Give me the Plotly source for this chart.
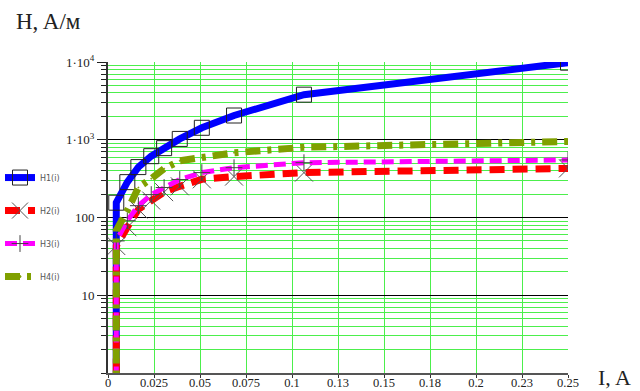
import plotly.graph_objects as go

# ---- data ----
current_a = [0.0045, 0.0045, 0.0105, 0.0165, 0.0235, 0.0305, 0.039, 0.051, 0.0685, 0.1065, 0.25]
h1 = [0.5, 155, 285, 445, 615, 780, 1025, 1425, 2050, 3800, 9800]
h2 = [0.5, 43, 75, 127, 165, 212, 252, 310, 336, 378, 428]
h3 = [0.5, 50, 91, 142, 197, 243, 308, 378, 437, 507, 550]
h4 = [0.5, 68, 123, 243, 316, 425, 537, 588, 680, 800, 950]
series_names = ["H1(i)", "H2(i)", "H3(i)", "H4(i)"]

x_tick_vals = [0, 0.025, 0.05, 0.075, 0.1, 0.125, 0.15, 0.175, 0.2, 0.225, 0.25]
x_tick_text = ["0", "0.025", "0.05", "0.075", "0.1", "0.13", "0.15", "0.18", "0.2", "0.23", "0.25"]
y_tick_vals = [10, 100, 1000, 10000]
y_tick_text = ["10", "100", "1·10<sup>3</sup>", "1·10<sup>4</sup>"]

SERIF = "Liberation Serif, Times New Roman, serif"
GREEN = "#4cef4c"

styles = [
    dict(color="#0000ff", width=7, dash="solid", sym="square-open", msize=15, mcolor="#222222"),
    dict(color="#ff0000", width=7, dash="15px,8px", sym="x-thin-open", msize=18, mcolor="#555555"),
    dict(color="#ff00ff", width=5, dash="12px,6px", sym="cross-thin-open", msize=12, mcolor="#444444"),
    dict(color="#80a000", width=7, dash="15px,7px,4px,7px", sym="circle", msize=1, mcolor="#80a000"),
]

fig = go.Figure()
for name, ys, st in zip(series_names, [h1, h2, h3, h4], styles):
    fig.add_trace(go.Scatter(
        x=current_a, y=ys, name=name, mode="lines+markers",
        line=dict(color=st["color"], width=st["width"], dash=st["dash"]),
        marker=dict(symbol=st["sym"], size=st["msize"], color=st["mcolor"],
                    line=dict(color=st["mcolor"], width=1)),
        legendgroup=name,
    ))

fig.update_layout(
    width=640, height=391,
    margin=dict(l=108, r=72, t=62, b=18, autoexpand=False),
    paper_bgcolor="white", plot_bgcolor="white",
    font=dict(family=SERIF, size=13, color="#222222"),
    showlegend=True,
    legend=dict(xref="container", yref="container", x=0.0, y=0.583,
                xanchor="left", yanchor="top",
                font=dict(family="DejaVu Sans, sans-serif", size=8, color="#555555"),
                bgcolor="rgba(0,0,0,0)", itemsizing="trace", tracegroupgap=14),
    xaxis=dict(
        range=[0, 0.25], tickmode="array", tickvals=x_tick_vals, ticktext=x_tick_text,
        showgrid=True, gridcolor=GREEN, gridwidth=1, zeroline=False, automargin=False,
        showline=True, linecolor="#555555", linewidth=2,
        ticks="outside", ticklen=3, tickcolor="#333333", ticklabelstandoff=-6,
        tickfont=dict(family=SERIF, size=12.5, color="#222222"),
    ),
    yaxis=dict(
        type="log", range=[0, 4], tickmode="array", tickvals=y_tick_vals, ticktext=y_tick_text,
        showgrid=True, gridcolor="#000000", gridwidth=1, zeroline=False, automargin=False,
        showline=True, linecolor="#333333", linewidth=2,
        ticks="outside", ticklen=9, tickcolor="#222222",
        tickfont=dict(family=SERIF, size=13, color="#222222"),
        minor=dict(dtick="D1", showgrid=True, gridcolor=GREEN, gridwidth=1,
                   ticks="outside", ticklen=5, tickcolor="#222222"),
    ),
)

# axis titles
fig.add_annotation(text="H, A/м", xref="paper", yref="paper", x=-0.205, y=1.13,
                   xanchor="left", yanchor="middle", showarrow=False,
                   font=dict(family=SERIF, size=23, color="#222222"))
fig.add_annotation(text="I, A", xref="paper", yref="paper", x=1.06, y=-0.016,
                   xanchor="left", yanchor="middle", showarrow=False,
                   font=dict(family=SERIF, size=22, color="#222222"))

fig.write_html("out.html", config={"displayModeBar": False},
               post_script="document.body.style.margin='0';document.body.style.padding='0';")
